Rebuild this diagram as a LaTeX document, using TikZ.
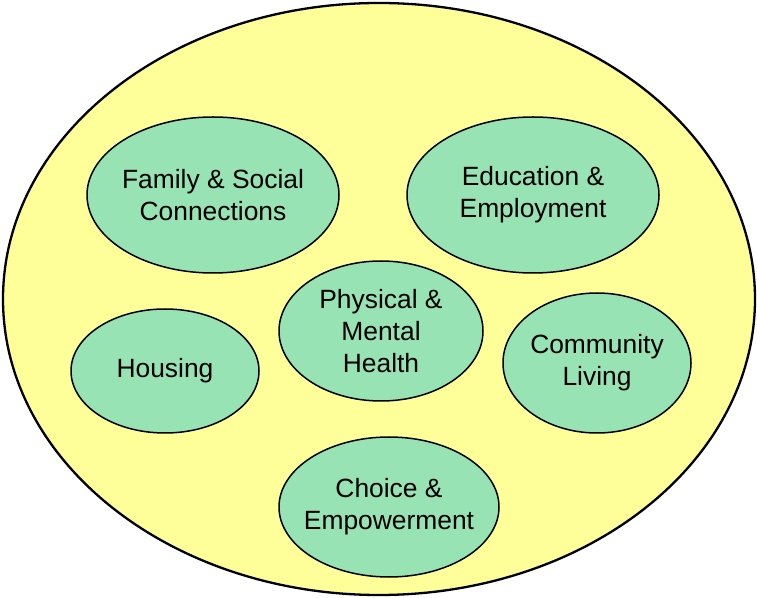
\documentclass[tikz,border=0pt]{standalone}
\usepackage{fontspec}
\setmainfont{Liberation Sans}
\usetikzlibrary{shapes.geometric}
\definecolor{lifeyellow}{HTML}{FFFF99}
\definecolor{lifegreen}{HTML}{97E3B4}
\tikzset{
  lifezone/.style={draw, ellipse, fill=lifeyellow, line width=2.3pt, inner sep=0pt},
  % negative inner sep so the ellipse keeps its minimum size around wide labels
  area/.style={draw, ellipse, fill=lifegreen, line width=1.5pt, inner sep=-30pt,
               align=center, font=\fontsize{26.4}{32}\selectfont},
}
\begin{document}
\begin{tikzpicture}[x=1pt, y=1pt]
\useasboundingbox (0,0) rectangle (757,597);
\node[lifezone, minimum width=752pt, minimum height=592pt] (life) at (379,298) {};
% life areas: name/x/y/width/height/label
\foreach \n/\x/\y/\w/\h/\t in {family/213/402/252/156/{Family \& Social\\Connections},
                               education/533/402/252/156/{Education \&\\Employment},
                               health/381/266/204/140/{Physical \&\\Mental\\Health},
                               housing/165/226/188/124/{Housing},
                               community/597/234/188/140/{Community\\Living},
                               choice/389/90/220/140/{Choice \&\\Empowerment}} {
  \node[area, minimum width=\w pt, minimum height=\h pt] (\n) at (\x,\y) {\t};
}
\end{tikzpicture}
\end{document}
